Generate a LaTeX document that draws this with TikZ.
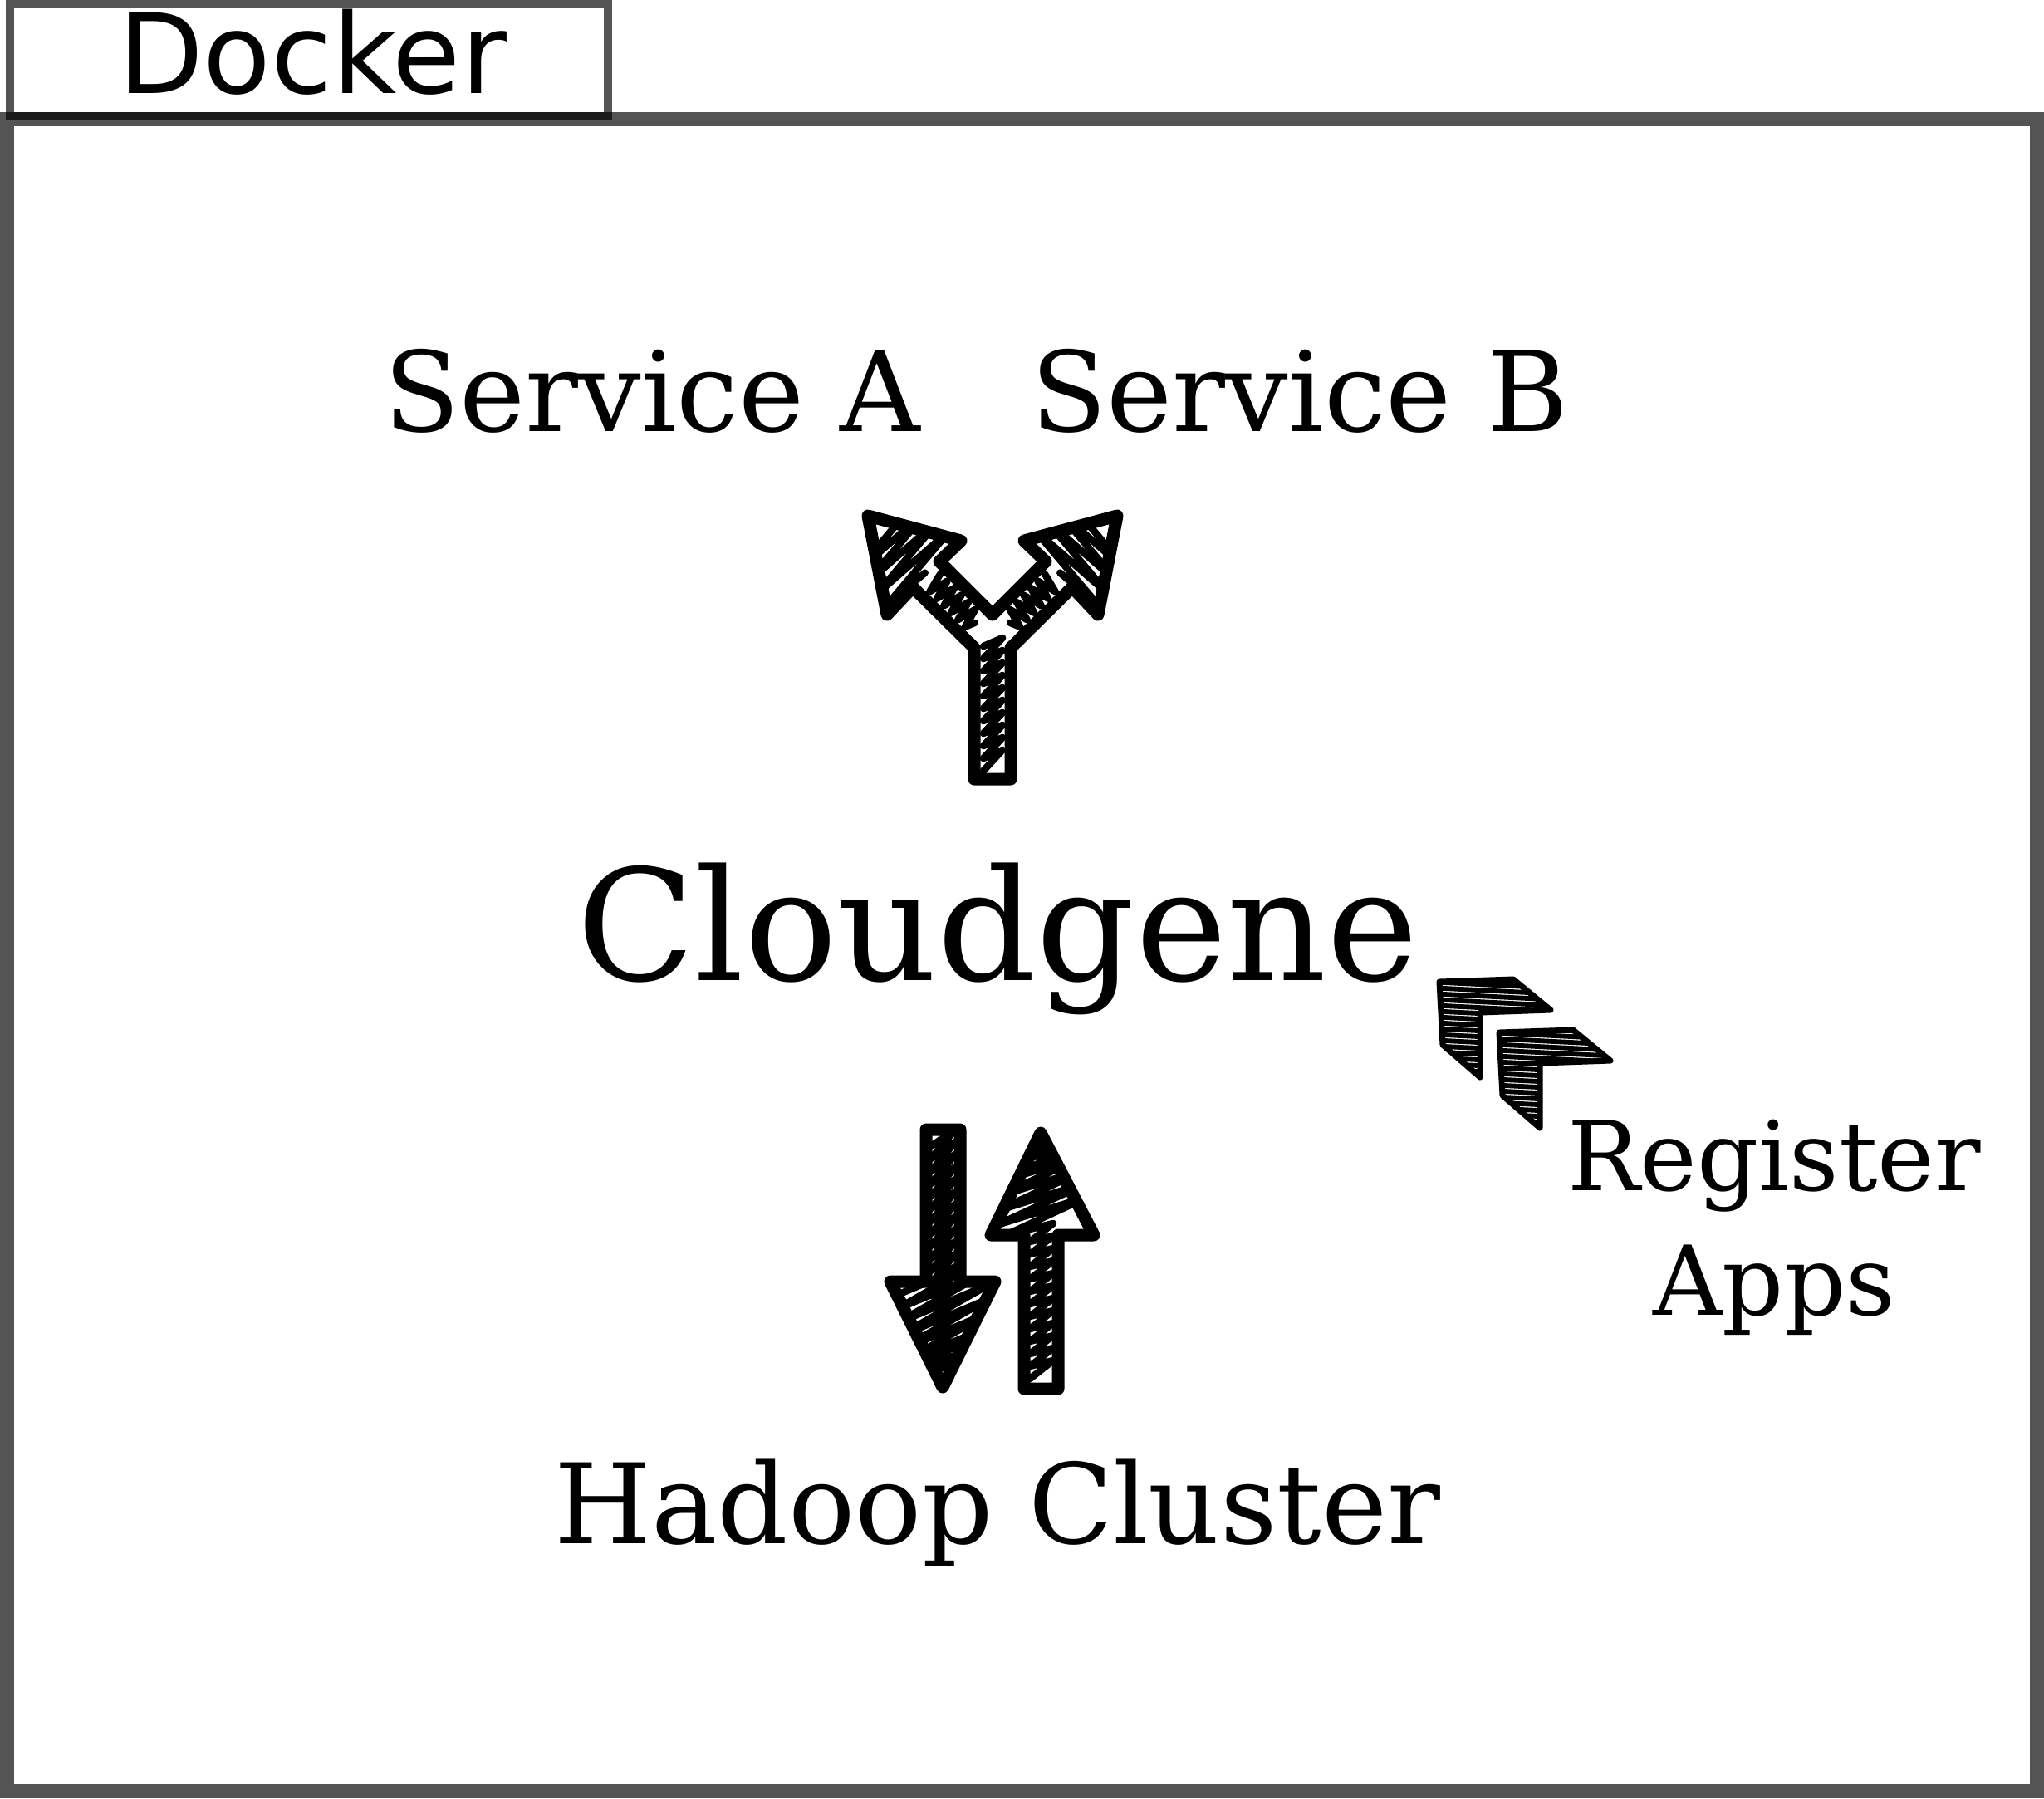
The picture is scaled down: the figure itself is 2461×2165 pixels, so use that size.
\documentclass[tikz,border=0pt]{standalone}
\usepackage{fontspec}
\setmainfont{DejaVu Serif}
\newfontfamily\dockerfont{DejaVu Sans}
\usetikzlibrary{positioning}

\tikzset{
	frame/.style={draw=black, draw opacity=0.67, line width=1.7mm},
	tab/.style={draw=black, draw opacity=0.67, line width=1mm, fill=white},
	sketch/.style={draw=black, line width=1.5mm, line join=round, line cap=round},
	scribble/.style={draw=black, line width=0.85mm, line join=round, line cap=round},
	hatch/.style={draw=black, line width=0.58mm},
	chevron/.style={draw=black, line width=0.7mm, line join=round},
	lbl/.style={inner sep=0pt, anchor=base}
}

\begin{document}
\begin{tikzpicture}[x=0.01cm, y=-0.01cm]
	\useasboundingbox (0,0) rectangle (2461,2165);
	% docker box
	\draw[tab] (12,5) rectangle (732,139.5);
	\draw[frame] (8.5,143.5) rectangle (2452.5,2156.5);
	\node[lbl] (docker) at (376,112) {\dockerfont\fontsize{38}{45}\selectfont Docker};

	% labels
	\node[lbl, font=\fontsize{38}{46}\selectfont] (serviceA) at (785,519) {Service A};
	\node[lbl, font=\fontsize{38}{46}\selectfont] (serviceB) at (1565,519) {Service B};
	\node[lbl, font=\fontsize{53}{64}\selectfont] (cloudgene) at (1201,1180) {Cloudgene};
	\node[lbl, font=\fontsize{33}{42.5}\selectfont, align=center] (register) at (2136,1583) {Register\\Apps};
	\node[lbl, font=\fontsize{38}{46}\selectfont] (hadoop) at (1201,1858) {Hadoop Cluster};

	% split arrow
	\coordinate (y1) at (1173,938);
	\coordinate (y2) at (1173,780);
	\coordinate (y3) at (1099,707);
	\coordinate (y4) at (1068,740);
	\coordinate (y5) at (1045,621);
	\coordinate (y6) at (1157,651);
	\coordinate (y7) at (1131,676);
	\coordinate (y8) at (1195,740);
	\coordinate (y9) at (1259,676);
	\coordinate (y10) at (1233,651);
	\coordinate (y11) at (1345,621);
	\coordinate (y12) at (1322,740);
	\coordinate (y13) at (1291,707);
	\coordinate (y14) at (1217,780);
	\coordinate (y15) at (1217,938);
	\begin{scope}
		\clip (y1) \foreach \i in {2,...,15} {-- (y\i)} -- cycle;
		\draw[scribble] (1184,928) \foreach \k in {0,...,9} {-- (1207,{903-15*\k}) -- (1184,{913-15*\k})};
		\draw[scribble] ({1195-0.7071*30},{771-0.7071*30}) \foreach \u in {35,47,...,105} {-- ({1195-0.7071*(\u+12)},{771-0.7071*(\u-12)}) -- ({1195-0.7071*(\u-6)},{771-0.7071*(\u+18)})};
		\draw[scribble] ({1195-0.7071*115},{771-0.7071*115}) \foreach \u in {120,138,...,190} {-- ({1195-0.7071*(\u+60)},{771-0.7071*(\u-60)}) -- ({1195-0.7071*(\u-50)},{771-0.7071*(\u+70)})};
		\draw[scribble] ({1195+0.7071*30},{771-0.7071*30}) \foreach \u in {35,47,...,105} {-- ({1195+0.7071*(\u+12)},{771-0.7071*(\u-12)}) -- ({1195+0.7071*(\u-6)},{771-0.7071*(\u+18)})};
		\draw[scribble] ({1195+0.7071*115},{771-0.7071*115}) \foreach \u in {120,138,...,190} {-- ({1195+0.7071*(\u+60)},{771-0.7071*(\u-60)}) -- ({1195+0.7071*(\u-50)},{771-0.7071*(\u+70)})};
	\end{scope}
	\draw[sketch] (y1) \foreach \i in {2,...,15} {-- (y\i)} -- cycle;

	% down arrow
	\coordinate (d1) at (1115,1360);
	\coordinate (d2) at (1156,1360);
	\coordinate (d3) at (1156,1543);
	\coordinate (d4) at (1198,1543);
	\coordinate (d5) at (1135,1670);
	\coordinate (d6) at (1072,1543);
	\coordinate (d7) at (1115,1543);
	\begin{scope}
		\clip (d1) \foreach \i in {2,...,7} {-- (d\i)} -- cycle;
		\draw[scribble] (1121,1380) \foreach \k in {0,...,11} {-- (1150,{1360+15*\k}) -- (1121,{1395+15*\k})};
		\draw[scribble] (1078,1560) \foreach \k in {0,...,6} {-- (1192,{1512+17*\k}) -- (1078,{1577+17*\k})};
	\end{scope}
	\draw[sketch] (d1) \foreach \i in {2,...,7} {-- (d\i)} -- cycle;

	% up arrow
	\coordinate (u1) at (1233,1672);
	\coordinate (u2) at (1274,1672);
	\coordinate (u3) at (1274,1487);
	\coordinate (u4) at (1317,1487);
	\coordinate (u5) at (1253,1364);
	\coordinate (u6) at (1193,1487);
	\coordinate (u7) at (1233,1487);
	\begin{scope}
		\clip (u1) \foreach \i in {2,...,7} {-- (u\i)} -- cycle;
		\draw[scribble] (1240,1660) \foreach \k in {0,...,11} {-- (1268,{1638-15*\k}) -- (1240,{1645-15*\k})};
		\draw[scribble] (1200,1492) \foreach \k in {0,...,5} {-- (1312,{1440-17*\k}) -- (1200,{1475-17*\k})};
	\end{scope}
	\draw[sketch] (u1) \foreach \i in {2,...,7} {-- (u\i)} -- cycle;

	% register chevrons
	\foreach \dx/\dy in {0/0, 72/61} {
		\begin{scope}[shift={(\dx,\dy)}]
			\coordinate (c1) at (1733,1182);
			\coordinate (c2) at (1822,1179);
			\coordinate (c3) at (1867,1216);
			\coordinate (c4) at (1782,1219);
			\coordinate (c5) at (1782,1297);
			\coordinate (c6) at (1737,1258);
			\begin{scope}
				\clip (c1) -- (c2) -- (c3) -- (c4) -- (c5) -- (c6) -- cycle;
				\foreach \h in {1168,1175,...,1305} \draw[hatch] (1720,\h) -- (1880,\h+8);
			\end{scope}
			\draw[chevron] (c1) -- (c2) -- (c3) -- (c4) -- (c5) -- (c6) -- cycle;
		\end{scope}
	}
\end{tikzpicture}
\end{document}
